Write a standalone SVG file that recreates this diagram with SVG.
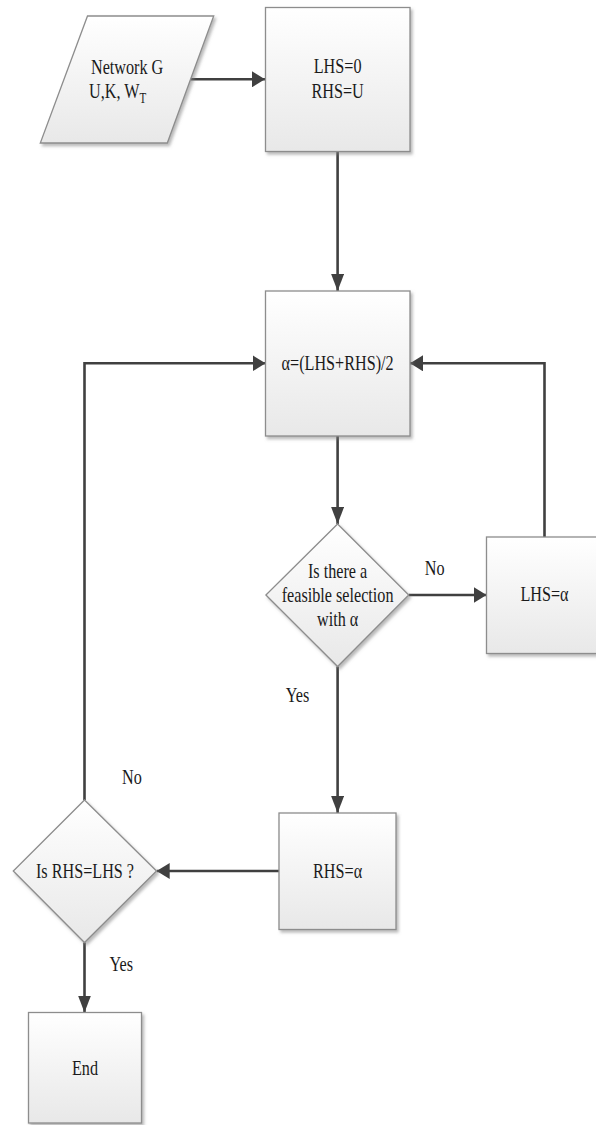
<svg xmlns="http://www.w3.org/2000/svg" width="596" height="1125" viewBox="0 0 596 1125">
  <style>
    .shape { fill: url(#fillGrad); stroke: #8d8d8d; stroke-width: 1.3; filter: url(#shadow); }
    .conn { fill: none; stroke: #404040; stroke-width: 2.6; }
    .label { font-family: "Liberation Serif", "Times New Roman", serif; font-size: 22px; fill: #1a1a1a; text-anchor: middle; }
    .sub { font-size: 15px; }
  </style>
  <defs>
    <linearGradient id="fillGrad" x1="0" y1="0" x2="0" y2="1">
      <stop offset="0" stop-color="#ffffff"/>
      <stop offset="1" stop-color="#e8e8e8"/>
    </linearGradient>
    <filter id="shadow" x="-10%" y="-10%" width="130%" height="130%">
      <feDropShadow dx="2" dy="2.5" stdDeviation="1.5" flood-color="#808080" flood-opacity="0.55"/>
    </filter>
    <!-- arrowheads: horizontal runs use a short wide head, vertical runs a long narrow one -->
    <marker id="headH" markerUnits="userSpaceOnUse" viewBox="0 0 13 16" refX="13" refY="8" markerWidth="13" markerHeight="16" orient="auto">
      <path d="M0,0 L13,8 L0,16 Z" fill="#404040"/>
    </marker>
    <marker id="headV" markerUnits="userSpaceOnUse" viewBox="0 0 17 13" refX="17" refY="6.5" markerWidth="17" markerHeight="13" orient="auto">
      <path d="M0,0 L17,6.5 L0,13 Z" fill="#404040"/>
    </marker>
  </defs>

  <!-- connectors -->
  <g id="connectors">
    <path class="conn" d="M190,79.3 H265" marker-end="url(#headH)"/>
    <path class="conn" d="M337.6,151.5 V291" marker-end="url(#headV)"/>
    <path class="conn" d="M337.6,436 V524" marker-end="url(#headV)"/>
    <path class="conn" d="M408.7,595 H486.5" marker-end="url(#headH)"/>
    <path class="conn" d="M544.5,537 V363.3 H410" marker-end="url(#headH)"/>
    <path class="conn" d="M337.6,666.5 V813" marker-end="url(#headV)"/>
    <path class="conn" d="M279,871 H156.7" marker-end="url(#headH)"/>
    <path class="conn" d="M84.5,800 V363.3 H265.5" marker-end="url(#headH)"/>
    <path class="conn" d="M84.5,942.5 V1012.5" marker-end="url(#headV)"/>
    <g class="label">
      <text transform="translate(434.7,575) scale(0.735,1)">No</text>
      <text transform="translate(297.5,702) scale(0.735,1)">Yes</text>
      <text transform="translate(132,784) scale(0.735,1)">No</text>
      <text transform="translate(121.3,971) scale(0.735,1)">Yes</text>
    </g>
  </g>

  <!-- input: network data -->
  <g id="input">
    <polygon class="shape" points="87.5,16 213.7,16 167.3,143 40.3,143"/>
    <text class="label" style="text-anchor:start" transform="translate(91,73.5) scale(0.735,1)">Network G</text>
    <text class="label" style="text-anchor:start" transform="translate(89,98) scale(0.735,1)">U,K, W<tspan class="sub" dy="5">T</tspan></text>
  </g>

  <!-- initial bounds -->
  <g id="init">
    <rect class="shape" x="265.5" y="7.5" width="144.5" height="144"/>
    <text class="label" transform="translate(337.6,73) scale(0.735,1)">LHS=0</text>
    <text class="label" transform="translate(337.6,98) scale(0.735,1)">RHS=U</text>
  </g>

  <!-- midpoint -->
  <g id="midpoint">
    <rect class="shape" x="265.5" y="291" width="144.5" height="145"/>
    <text class="label" transform="translate(337.6,370) scale(0.735,1)">α=(LHS+RHS)/2</text>
  </g>

  <!-- feasibility test -->
  <g id="feasible">
    <polygon class="shape" points="337.6,524 408.7,595 337.6,666.5 265.9,595"/>
    <text class="label" transform="translate(337.6,577.5) scale(0.735,1)">Is there a</text>
    <text class="label" transform="translate(337.6,601.5) scale(0.735,1)">feasible selection</text>
    <text class="label" transform="translate(337.6,626) scale(0.735,1)">with α</text>
  </g>

  <!-- raise lower bound -->
  <g id="set-lhs">
    <rect class="shape" x="486.5" y="537" width="116" height="116.5"/>
    <text class="label" transform="translate(544.5,601) scale(0.735,1)">LHS=α</text>
  </g>

  <!-- lower upper bound -->
  <g id="set-rhs">
    <rect class="shape" x="279" y="813" width="117" height="116.5"/>
    <text class="label" transform="translate(337.6,878) scale(0.735,1)">RHS=α</text>
  </g>

  <!-- convergence test -->
  <g id="converged">
    <polygon class="shape" points="84.5,800 156.5,871 84.5,942.5 13.3,871"/>
    <text class="label" transform="translate(85,878) scale(0.735,1)">Is RHS=LHS ?</text>
  </g>

  <!-- end -->
  <g id="end">
    <rect class="shape" x="28.5" y="1012.5" width="113" height="110.5"/>
    <text class="label" transform="translate(85,1075) scale(0.735,1)">End</text>
  </g>
</svg>
